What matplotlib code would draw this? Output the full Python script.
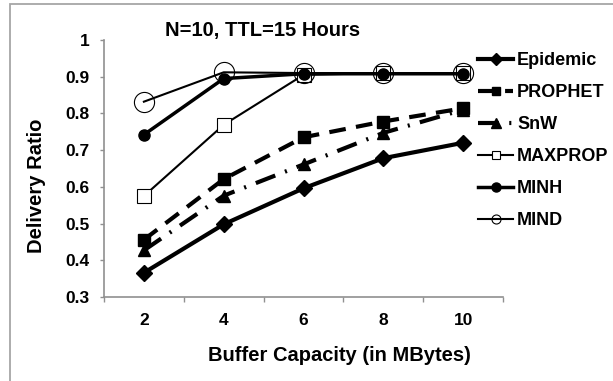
import matplotlib.pyplot as plt
from matplotlib.patches import Rectangle

plt.rcParams['font.family'] = ['Liberation Sans', 'DejaVu Sans']
plt.rcParams['font.weight'] = 'bold'

buffer_mb = [2, 4, 6, 8, 10]
epidemic = [0.366, 0.498, 0.596, 0.678, 0.72]
prophet = [0.456, 0.621, 0.735, 0.778, 0.814]
snw = [0.427, 0.576, 0.661, 0.747, 0.81]
maxprop = [0.575, 0.769, 0.905, 0.91, 0.91]
minh = [0.742, 0.895, 0.908, 0.908, 0.908]
mind = [0.832, 0.912, 0.91, 0.91, 0.91]

W, H = 613, 381
fig = plt.figure(figsize=(W / 100, H / 100), dpi=100)
# plot area in pixels: x 104..503, y 40..297
ax = fig.add_axes([104 / W, 1 - 297 / H, (503 - 104) / W, (297 - 40) / H])

# chart area border (only top and left edges fall inside the image)
fig.patches.append(Rectangle((10 / W, -0.1), 1.2, 1 - 4 / H + 0.1,
                             transform=fig.transFigure, fill=False,
                             edgecolor='#a6a6a6', linewidth=1.3))

pos = list(range(len(buffer_mb)))
ax.plot(pos, epidemic, color='black', lw=3, marker='D', ms=8, label='Epidemic')
ax.plot(pos, prophet, color='black', lw=3, ls=(0, (4, 2.5)), marker='s', ms=8, label='PROPHET')
ax.plot(pos, snw, color='black', lw=3, ls=(0, (5, 2.5, 0.5, 2.5)), marker='^', ms=9, label='SnW')
ax.plot(pos, maxprop, color='black', lw=1.5, marker='s', ms=10, mfc='white', mec='black', mew=0.8, label='MAXPROP')
ax.plot(pos, minh, color='black', lw=2.5, marker='o', ms=8, label='MINH')
ax.plot(pos, mind, color='black', lw=1.5, marker='o', ms=14.5, mfc='none', mec='black', mew=0.8, label='MIND')

ax.set_xlim(-0.5, len(buffer_mb) - 0.5)
ax.set_ylim(0.3, 1.0)
ax.set_xticks(pos)
ax.set_xticklabels([str(b) for b in buffer_mb])
ax.set_xticks([p - 0.5 for p in pos] + [len(pos) - 0.5], minor=True)
ax.tick_params(axis='x', which='major', length=0, pad=11.5, labelsize=12.5)
ax.tick_params(axis='x', which='minor', length=3.6, width=1, color='#909090', direction='out')
ax.set_yticks([0.3, 0.4, 0.5, 0.6, 0.7, 0.8, 0.9, 1.0])
ax.set_yticklabels(['0.3', '0.4', '0.5', '0.6', '0.7', '0.8', '0.9', '1'])
ax.tick_params(axis='y', length=3, width=1, color='#909090', labelsize=12.5, pad=7.7)

for s in ['top', 'right']:
    ax.spines[s].set_visible(False)
for s in ['left', 'bottom']:
    ax.spines[s].set_color('#909090')
    ax.spines[s].set_linewidth(1.2)

fig.text(339 / W, 1 - 361 / H, 'Buffer Capacity (in MBytes)', fontsize=14.5,
         fontweight='bold', ha='center', va='baseline')
fig.text(36 / W, 1 - 185.5 / H, 'Delivery Ratio', fontsize=14.5, fontweight='bold',
         ha='center', va='center', rotation=90)
fig.text(263 / W, 1 - 35.7 / H, 'N=10, TTL=15 Hours', fontsize=14.5, fontweight='bold',
         ha='center', va='baseline')

leg = ax.legend(loc='upper left', bbox_to_anchor=(478 / W, 1 - 52 / H),
                bbox_transform=fig.transFigure, frameon=False, fontsize=13,
                borderpad=0, borderaxespad=0, handlelength=1.94,
                handletextpad=0.22, labelspacing=0.83)
# small markers in the legend, like the original
for h, ms in zip(leg.legend_handles, [6.5, 6, 7, 6, 6.5, 6.5]):
    h.set_markersize(ms)

fig.savefig('out.png', dpi=100)
